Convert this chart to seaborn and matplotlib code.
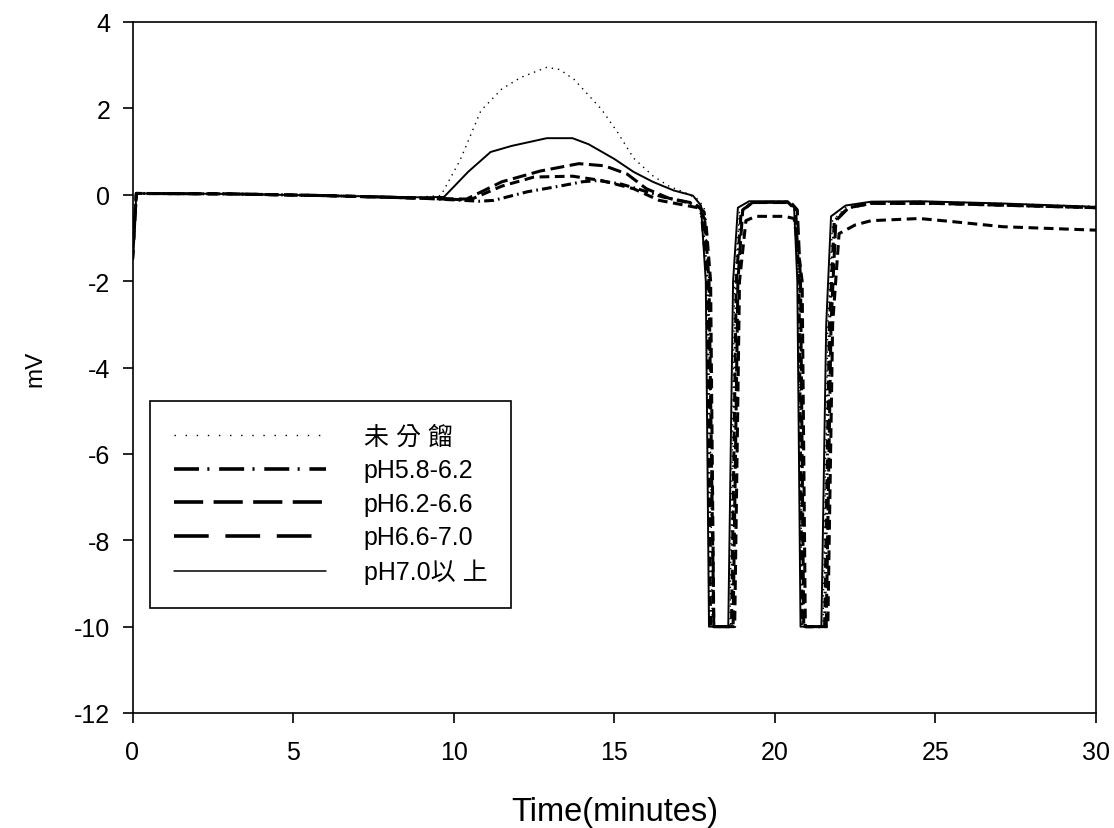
import matplotlib
matplotlib.use("Agg")
import matplotlib.pyplot as plt
from matplotlib.lines import Line2D
import numpy as np
import pandas as pd
import seaborn as sns

# ---- chromatogram traces (time in minutes, detector signal in mV) ----
labels = ["未 分 餾", "pH5.8-6.2", "pH6.2-6.6", "pH6.6-7.0", "pH7.0以 上"]

t_unfrac = [0, 0.12, 3, 6, 9, 9.6, 10.2, 10.85, 11.5, 12.1, 12.9, 13.3, 13.75, 14.6,
            15.1, 15.6, 16.2, 16.7, 17.2, 17.6, 17.8, 17.95, 18.05, 18.6, 18.75, 18.9,
            19.2, 20.3, 20.6, 20.75, 20.85, 21.5, 21.65, 21.8, 22.2, 23, 24.5, 27, 30]
mv_unfrac = [-1.5, 0.03, 0.02, -0.02, -0.05, -0.02, 0.8, 1.95, 2.45, 2.72, 2.95, 2.9, 2.67, 1.98,
             1.45, 0.85, 0.44, 0.2, 0.05, -0.1, -0.3, -2, -10, -10, -2, -0.4,
             -0.2, -0.15, -0.3, -2, -10, -10, -3, -0.6, -0.3, -0.18, -0.15, -0.2, -0.27]

t_ph58 = [0, 0.12, 3, 6, 9, 10.8, 11.25, 12.3, 13.3, 14.0, 14.5, 15.2, 15.8, 16.5, 17.3,
          17.7, 17.9, 18.0, 18.65, 18.8, 18.95, 19.3, 20.4, 20.65, 20.75, 20.85, 21.55,
          21.7, 21.85, 22.3, 23, 25, 30]
mv_ph58 = [-1.5, 0.03, 0.02, -0.02, -0.08, -0.15, -0.13, 0.07, 0.2, 0.3, 0.33, 0.25, 0.12, -0.05, -0.18,
           -0.3, -2, -10, -10, -2, -0.4, -0.18, -0.17, -0.35, -2, -10, -10,
           -3, -0.6, -0.3, -0.2, -0.2, -0.3]

t_ph62 = [0, 0.12, 3, 6, 9, 10.5, 11.5, 12.5, 13.7, 14.6, 15.6, 16.4, 16.9, 17.6, 17.85,
          18.0, 18.1, 18.75, 18.9, 19.1, 19.4, 20.3, 20.6, 20.85, 20.95, 21.65, 21.8,
          22.0, 22.5, 23.0, 24.5, 25.5, 27.1, 30]
mv_ph62 = [-1.5, 0.03, 0.02, -0.02, -0.08, -0.12, 0.2, 0.41, 0.43, 0.33, 0.14, -0.13, -0.2, -0.3, -0.6,
           -2, -10, -10, -2, -0.6, -0.5, -0.5, -0.55, -2, -10, -10, -3,
           -0.9, -0.7, -0.6, -0.55, -0.62, -0.74, -0.82]

t_ph66 = [0, 0.12, 3, 6, 9, 10.4, 11.5, 12.7, 13.9, 14.7, 15.4, 16.0, 16.7, 17.5, 17.8,
          17.95, 18.1, 18.7, 18.85, 19.0, 19.3, 20.5, 20.7, 20.8, 20.9, 21.6, 21.75,
          21.9, 22.3, 23, 25, 30]
mv_ph66 = [-1.5, 0.03, 0.02, -0.02, -0.08, -0.1, 0.3, 0.55, 0.72, 0.67, 0.48, 0.14, -0.08, -0.2, -0.4,
           -2, -10, -10, -2, -0.35, -0.18, -0.18, -0.35, -2, -10, -10, -3,
           -0.6, -0.3, -0.2, -0.2, -0.3]

t_ph70 = [0, 0.12, 3, 6, 9, 9.7, 10.45, 11.15, 11.8, 12.9, 13.7, 14.2, 15.0, 15.6, 16.2,
          16.85, 17.45, 17.7, 17.85, 17.95, 18.55, 18.7, 18.85, 19.2, 20.4, 20.6, 20.7,
          20.8, 21.45, 21.6, 21.75, 22.2, 23, 24.5, 27, 30]
mv_ph70 = [-1.5, 0.03, 0.02, -0.02, -0.06, -0.05, 0.53, 0.99, 1.13, 1.31, 1.31, 1.17, 0.83, 0.53, 0.3,
           0.1, -0.02, -0.25, -2, -10, -10, -2, -0.3, -0.15, -0.15, -0.3, -2,
           -10, -10, -3, -0.5, -0.25, -0.16, -0.15, -0.2, -0.28]

x_ticks = [0, 5, 10, 15, 20, 25, 30]
y_ticks = [4, 2, 0, -2, -4, -6, -8, -10, -12]

# ---- styling ----
sns.set_theme(style="ticks")
plt.rcParams["font.family"] = ["Liberation Sans", "Noto Sans CJK TC", "DejaVu Sans"]
plt.rcParams["axes.unicode_minus"] = False
plt.rcParams["lines.scale_dashes"] = False
plt.rcParams["text.color"] = "black"
plt.rcParams["axes.labelcolor"] = "black"

series = [
    (t_unfrac, mv_unfrac, dict(lw=1.0, ls=(0, (1.0, 3.5)))),
    (t_ph58, mv_ph58, dict(lw=2.2, ls=(0, (7, 3, 1.2, 3)))),
    (t_ph62, mv_ph62, dict(lw=2.2, ls=(0, (7, 4)))),
    (t_ph66, mv_ph66, dict(lw=2.2, ls=(0, (10, 4)))),
    (t_ph70, mv_ph70, dict(lw=1.4, ls="-")),
]

fig = plt.figure(figsize=(11.14, 8.29), dpi=100)
left, right, top, bottom = 132.5 / 1114, 1096 / 1114, 1 - 23 / 829, 1 - 714 / 829
ax = fig.add_axes([left, bottom, right - left, top - bottom])

for name, (t, v, st) in zip(labels, series):
    df = pd.DataFrame({"time": t, "mV": v})
    sns.lineplot(data=df, x="time", y="mV", ax=ax, color="black", sort=False,
                 estimator=None, linewidth=st["lw"], linestyle=st["ls"], legend=False)

ax.set_xlim(0, 30)
ax.set_ylim(-12, 4)
ax.set_xticks(x_ticks)
ax.set_yticks(y_ticks)
ax.set_xticklabels([str(x) for x in x_ticks])
ax.set_yticklabels([str(y) for y in y_ticks])
ax.tick_params(axis="both", direction="out", length=7.5, width=1.2, labelsize=18,
               color="black", labelcolor="black")
ax.tick_params(axis="x", pad=12)
ax.tick_params(axis="y", pad=8.5)
for sp in ax.spines.values():
    sp.set_visible(True)
    sp.set_linewidth(1.2)
    sp.set_color("black")

ax.set_xlabel("Time(minutes)", fontsize=23.5, labelpad=23)
ax.set_ylabel("mV", fontsize=17.5, labelpad=20)

# legend keys drawn with the longer dash patterns of the key box
handles = [
    Line2D([], [], color="black", lw=1.0, ls=(0, (1.0, 7))),
    Line2D([], [], color="black", lw=2.6, ls=(0, (18, 6, 1.5, 7))),
    Line2D([], [], color="black", lw=2.6, ls=(0, (21, 7.5))),
    Line2D([], [], color="black", lw=2.6, ls=(0, (25, 12))),
    Line2D([], [], color="black", lw=1.1, ls="-"),
]
leg = ax.legend(handles, labels, loc="upper left", bbox_to_anchor=(0.0182, 0.4515),
                borderaxespad=0, fontsize=18, handlelength=6.08, handletextpad=1.52,
                labelspacing=0.38, borderpad=0.95, fancybox=False, framealpha=1,
                edgecolor="black")
leg.get_frame().set_linewidth(1.2)

fig.savefig("out.png", dpi=100, facecolor="white")
